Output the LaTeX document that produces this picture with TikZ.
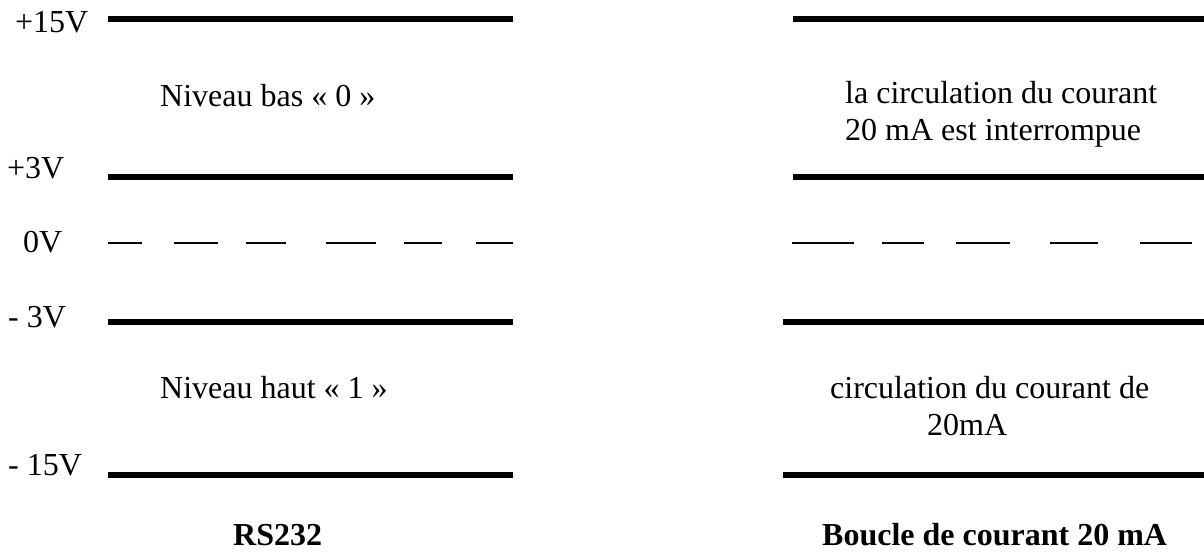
\documentclass[tikz,border=0pt]{standalone}
\usepackage{fontspec}
\setmainfont{Liberation Serif}
\usetikzlibrary{positioning}

\tikzset{
  level/.style={line width=6.5pt},
  zero/.style={line width=2pt},
  txt/.style={font=\fontsize{32}{37}\selectfont, inner sep=0pt, anchor=base west},
  title/.style={txt, font=\fontsize{32}{37}\selectfont\bfseries}
}

\begin{document}
\begin{tikzpicture}[x=1pt,y=-1pt]
\useasboundingbox (0,0) rectangle (1204,555);
% we draw the thick level lines of the RS232 side
\foreach \y in {19,177,322,475}
  \draw[level] (108,\y) -- (513,\y);
% the same for the current loop side
\foreach \y/\x in {19/793,177/793,322/783,475/783}
  \draw[level] (\x,\y) -- (1204,\y);
% the broken 0V line on both sides
\foreach \a/\b in {108/142,174/218,246/286,326/376,404/442,476/513,792/854,882/924,956/1010,1050/1098,1140/1192}
  \draw[zero] (\a,243) -- (\b,243);
% we place the voltages
\foreach \nom/\x/\y/\txt in {vpq/15/32/+15V, vpt/7/178/+3V, vzero/23/252/0V, vmt/8/327/- 3V, vmq/8/475/- 15V}
  \node[txt] (\nom) at (\x,\y) {\txt};
% the levels
\node[txt] (bas) at (160,106) {Niveau bas « 0 »};
\node[txt] (haut) at (160,398) {Niveau haut « 1 »};
\node[txt] (interA) at (845,103) {la circulation du courant};
\node[txt] (interB) at (845,140) {20 mA est interrompue};
\node[txt] (circA) at (830,398) {circulation du courant de};
\node[txt] (circB) at (927,435) {20mA};
%
\node[title] (rs) at (233,545) {RS232};
\node[title] (boucle) at (822,545) {Boucle de courant 20 mA};
%
\end{tikzpicture}
\end{document}
